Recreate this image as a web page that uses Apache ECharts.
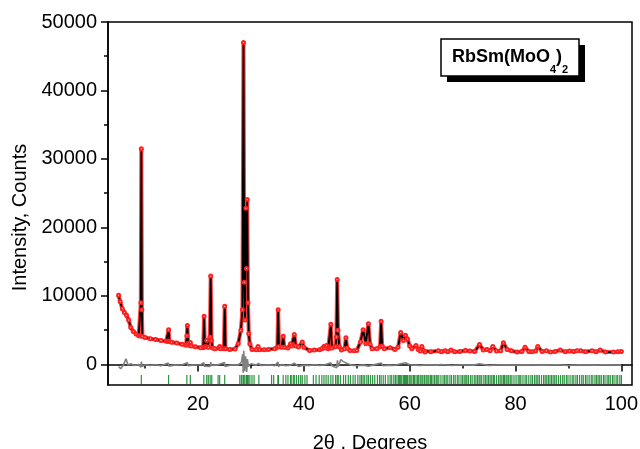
<!DOCTYPE html>
<html>
<head>
<meta charset="utf-8">
<script src="https://cdn.jsdelivr.net/npm/echarts@6/dist/echarts.min.js"></script>
<style>
html,body{margin:0;padding:0;background:#fff;}
#chart{width:640px;height:449px;}
</style>
</head>
<body>
<div id="chart"></div>
<script>
// 2theta (degrees), intensity (counts)
const profile = [
[5.0,10100],[5.3,9200],[5.7,8150],[6.1,7600],[6.5,7200],[6.9,6500],[7.3,5400],[7.8,4800],[8.3,4450],[8.8,4200],[9.1,4150],
[9.2,9000],[9.3,31500],[9.4,8000],[9.5,4100],[10.0,3950],[11.0,3750],[12.0,3650],[13.0,3500],[14.0,3380],[14.3,3400],
[14.45,5080],[14.6,3350],[15.0,3250],[16.0,3120],[17.0,2950],[17.75,2800],[17.9,4200],[18.0,5700],[18.15,3100],[18.4,2750],
[18.55,3200],[18.7,2700],[19.5,2600],[20.5,2450],[21.0,2450],[21.15,7030],[21.3,2600],[21.5,2600],[21.65,3500],[21.8,2550],
[22.0,2500],[22.25,4000],[22.4,12900],[22.55,3500],[22.75,2400],[23.2,2300],[24.0,2400],[24.1,2630],[24.3,2300],[24.9,2300],
[25.05,8490],[25.2,2300],[26.0,2200],[27.0,2250],[27.6,3030],[28.1,4980],[28.4,8000],[28.6,47000],[28.75,12000],[28.9,6500],
[29.05,22800],[29.15,14000],[29.3,24100],[29.45,9000],[29.6,4500],[29.8,3000],[30.2,2200],[31.0,2150],[31.35,2630],[31.6,2150],
[32.5,2150],[33.3,2200],[34.5,2300],[35.0,2500],[35.15,8000],[35.3,2600],[35.8,2500],[36.1,4100],[36.3,2500],[37.0,2400],
[37.5,3030],[37.7,2700],[38.2,4390],[38.5,2700],[39.0,2550],[39.7,3270],[40.0,2500],[41.1,2050],[42.0,2100],[43.0,2150],
[43.4,2300],[43.8,2630],[44.0,2400],[44.3,2780],[44.6,2300],[44.95,2400],[45.1,5860],[45.3,2400],[46.0,2600],[46.15,4000],
[46.3,12400],[46.45,5000],[46.7,2600],[47.1,2100],[47.7,2300],[47.95,3900],[48.2,2400],[48.7,2050],[49.5,2000],[50.0,2050],
[50.7,3270],[51.2,5080],[51.7,3030],[52.2,5960],[52.5,3000],[52.9,2300],[53.8,2300],[54.4,2600],[54.6,6300],[54.8,2700],
[55.2,2300],[56.3,2450],[57.2,2200],[57.8,2500],[58.3,4680],[58.8,3500],[59.2,4250],[59.6,3700],[60.0,2700],[60.4,2300],
[61.2,2780],[61.6,2200],[62.0,1950],[62.3,2630],[62.6,2000],[62.9,1800],[64.0,1850],[65.4,2000],[66.0,1850],[66.7,2000],
[67.2,1850],[67.8,2100],[68.5,1850],[69.5,1900],[70.5,2050],[71.4,1950],[72.3,1900],[73.2,2930],[73.9,2100],[74.6,2200],
[75.2,2000],[75.7,2630],[76.4,1950],[77.2,2000],[77.7,3170],[78.4,2200],[79.2,2000],[80.3,1800],[81.2,1900],[81.8,2500],
[82.5,1900],[83.1,1850],[83.8,1950],[84.2,2630],[85.0,1900],[85.8,2000],[86.6,1800],[87.5,1900],[88.45,2100],[89.4,1850],
[90.2,1950],[91.0,1900],[91.6,2000],[92.3,2000],[93.2,1850],[94.45,2000],[95.2,1850],[96.0,2100],[97.0,1800],[98.5,1800],
[99.3,1850],[100.0,1900]
];
const difference = [
[5.0,-300],[5.4,-630],[5.9,-100],[6.4,830],[6.8,-100],[7.3,100],[8.0,-150],[8.8,0],[9.2,-400],[9.3,400],[9.45,-300],[10.0,-50],
[11,-150],[12,-50],[13,-200],[14.4,200],[14.5,-250],[15.5,-100],[17,-50],[18,250],[18.1,-200],[19,-100],[20.5,-50],[21.1,250],
[21.2,-250],[22.3,-300],[22.4,350],[22.5,-150],[23.5,-100],[25.0,300],[25.1,-300],[26.5,-50],[27.5,-100],[28.2,300],[28.45,1500],
[28.55,-1200],[28.65,2000],[28.8,-1000],[29.0,1200],[29.2,-1100],[29.35,800],[29.5,-300],[30,100],[31,-100],[31.4,150],[32,-150],
[33.5,-50],[34.5,-200],[35.1,350],[35.2,-300],[35.8,0],[36.5,-200],[37.5,-100],[38.2,200],[39,-300],[40,-100],[41,-150],[42,-50],
[43,-150],[44,-50],[45.1,250],[45.3,-200],[46.2,-500],[46.35,600],[46.5,-300],[47.0,700],[47.4,450],[48,200],[49,-100],[50,-200],
[51.2,-100],[52.2,-250],[53,-100],[54.6,200],[55,-200],[56,-100],[57,-150],[58.3,100],[59.2,250],[60,-50],[61,-100],[62,-150],
[63,-50],[65,-100],[66,0],[68,-150],[70,-50],[72,-100],[73.2,100],[75,-150],[77.7,-50],[80,-100],[82,-50],[85,-100],[88,-50],
[90,-150],[92,-50],[95,-100],[97,-50],[100,-100]
];
const braggPositions = [
9.3,14.45,17.9,18.55,21.1,21.65,21.95,22.3,22.6,23.8,24.1,25.05,27.9,28.2,28.5,28.65,28.85,29.15,29.35,29.5,29.8,30.2,30.6,31.5,
33.9,34.3,35.1,35.2,36.1,36.6,37.0,37.5,37.6,38.0,38.2,38.6,39.0,39.4,39.7,40.2,40.6,41.8,42.3,42.9,43.4,43.8,44.2,44.6,45.1,45.5,
46.0,46.3,46.5,46.9,47.5,47.9,48.4,48.8,49.3,49.7,50.2,50.6,50.9,51.2,51.5,51.9,52.2,52.6,53.0,53.4,53.9,54.3,54.6,55.0,55.4,55.9,
56.3,56.6,57.0,57.3,57.6,57.9,58.1,58.3,58.5,58.8,59.0,59.2,59.4,59.6,59.9,60.1,60.4,60.7,60.9,61.2,61.5,61.7,62.0,62.3,62.5,62.8,
63.1,63.3,63.6,63.9,64.1,64.4,64.7,65.0,65.2,65.5,65.9,66.3,66.6,66.9,67.2,67.6,67.9,68.3,68.6,69.0,69.3,69.7,70.0,70.3,70.6,70.8,
71.1,71.5,71.8,72.2,72.5,72.8,73.1,73.3,73.6,74.0,74.3,74.6,74.9,75.2,75.5,75.8,76.0,76.4,76.8,77.1,77.4,77.7,77.9,78.2,78.4,78.7,
79.0,79.3,79.7,80.1,80.5,80.8,81.0,81.4,81.8,82.1,82.5,82.9,83.2,83.6,83.9,84.2,84.5,84.9,85.3,85.6,85.9,86.2,86.5,86.8,87.1,87.4,
87.7,88.1,88.5,88.9,89.2,89.6,89.9,90.3,90.7,91.0,91.4,91.7,92.1,92.5,92.8,93.2,93.5,93.9,94.3,94.6,95.0,95.3,95.6,95.9,96.2,96.6,
96.9,97.3,97.6,97.9,98.3,98.6,99.0,99.3,99.7,100.0
];
const braggLevel = -2200;
const xMajorTicks = [20,40,60,80,100];
const xMinorTicks = [10,30,50,70,90];
const yMajorTicks = [0,10000,20000,30000,40000,50000];
const yMinorTicks = [5000,15000,25000,35000,45000];

const FONT = '"Liberation Sans", Arial, sans-serif';
const chart = echarts.init(document.getElementById('chart'));
const axisLine = {show:true, lineStyle:{color:'#000', width:1.5}};
chart.setOption({
  animation:false,
  backgroundColor:'#fff',
  grid:{left:108, right:8, top:22, bottom:64, show:true, borderColor:'#000', borderWidth:1.5,
        containLabel:false, outerBoundsMode:'none'},
  xAxis:[
    {type:'value', min:3, max:102, position:'bottom', axisLine:axisLine,
     axisTick:{show:true, inside:false, length:7, lineStyle:{color:'#000', width:1.5}, customValues:xMajorTicks},
     axisLabel:{show:true, margin:9, color:'#000', fontSize:20, fontFamily:FONT, customValues:xMajorTicks,
                formatter:v=>String(v)},
     splitLine:{show:false},
     name:'2θ , Degrees', nameLocation:'middle', nameGap:48,
     nameTextStyle:{color:'#000', fontSize:20, fontFamily:FONT}},
    {type:'value', min:3, max:102, position:'bottom', offset:0, axisLine:{show:false},
     axisTick:{show:true, inside:false, length:4, lineStyle:{color:'#000', width:1.5}, customValues:xMinorTicks},
     axisLabel:{show:false}, splitLine:{show:false}}
  ],
  yAxis:[
    {type:'value', min:-3000, max:50000, position:'left', axisLine:axisLine,
     axisTick:{show:true, inside:false, length:7, lineStyle:{color:'#000', width:1.5}, customValues:yMajorTicks},
     axisLabel:{show:true, margin:11, color:'#000', fontSize:20, fontFamily:FONT, customValues:yMajorTicks,
                formatter:v=>String(v)},
     splitLine:{show:false},
     name:'Intensity, Counts', nameLocation:'middle', nameGap:78,
     nameTextStyle:{color:'#000', fontSize:20, fontFamily:FONT, padding:[0,28,0,0]}},
    {type:'value', min:-3000, max:50000, position:'left', offset:0, axisLine:{show:false},
     axisTick:{show:true, inside:false, length:4, lineStyle:{color:'#000', width:1.5}, customValues:yMinorTicks},
     axisLabel:{show:false}, splitLine:{show:false}}
  ],
  series:[
    {type:'scatter', name:'Bragg', xAxisIndex:0, yAxisIndex:0, silent:true,
     data:braggPositions.map(p=>[p, braggLevel]), symbol:'rect', symbolSize:[1.2,9],
     itemStyle:{color:'#168a2c', opacity:0.9}},
    {type:'line', name:'Difference', data:difference, symbol:'none', silent:true,
     lineStyle:{color:'#808080', width:1.6}},
    {type:'line', name:'Observed', data:profile, symbol:'emptyCircle', symbolSize:3, showAllSymbol:true, silent:true,
     itemStyle:{color:'#ff2020', borderWidth:1}, lineStyle:{color:'#ff2a2a', width:4, opacity:0.9}},
    {type:'line', name:'Calculated', data:profile, symbol:'none', silent:true,
     lineStyle:{color:'#000', width:1.8}}
  ],
  graphic:[
    {type:'rect', shape:{x:447, y:45, width:138, height:37}, style:{fill:'#000'}, z:10},
    {type:'rect', shape:{x:441, y:39, width:138, height:37}, style:{fill:'#fff', stroke:'#000', lineWidth:1.5}, z:11},
    {type:'text', x:510, y:57, z:12,
     style:{text:'{n|RbSm(MoO}{s|4}{n|)}{s|2}', align:'center', verticalAlign:'middle',
       rich:{n:{fontSize:18, fontWeight:'bold', fontFamily:FONT, fill:'#000', lineHeight:36},
             s:{fontSize:11, fontWeight:'bold', fontFamily:FONT, fill:'#000', lineHeight:14, verticalAlign:'bottom'}}}}
  ]
});
</script>
</body>
</html>
